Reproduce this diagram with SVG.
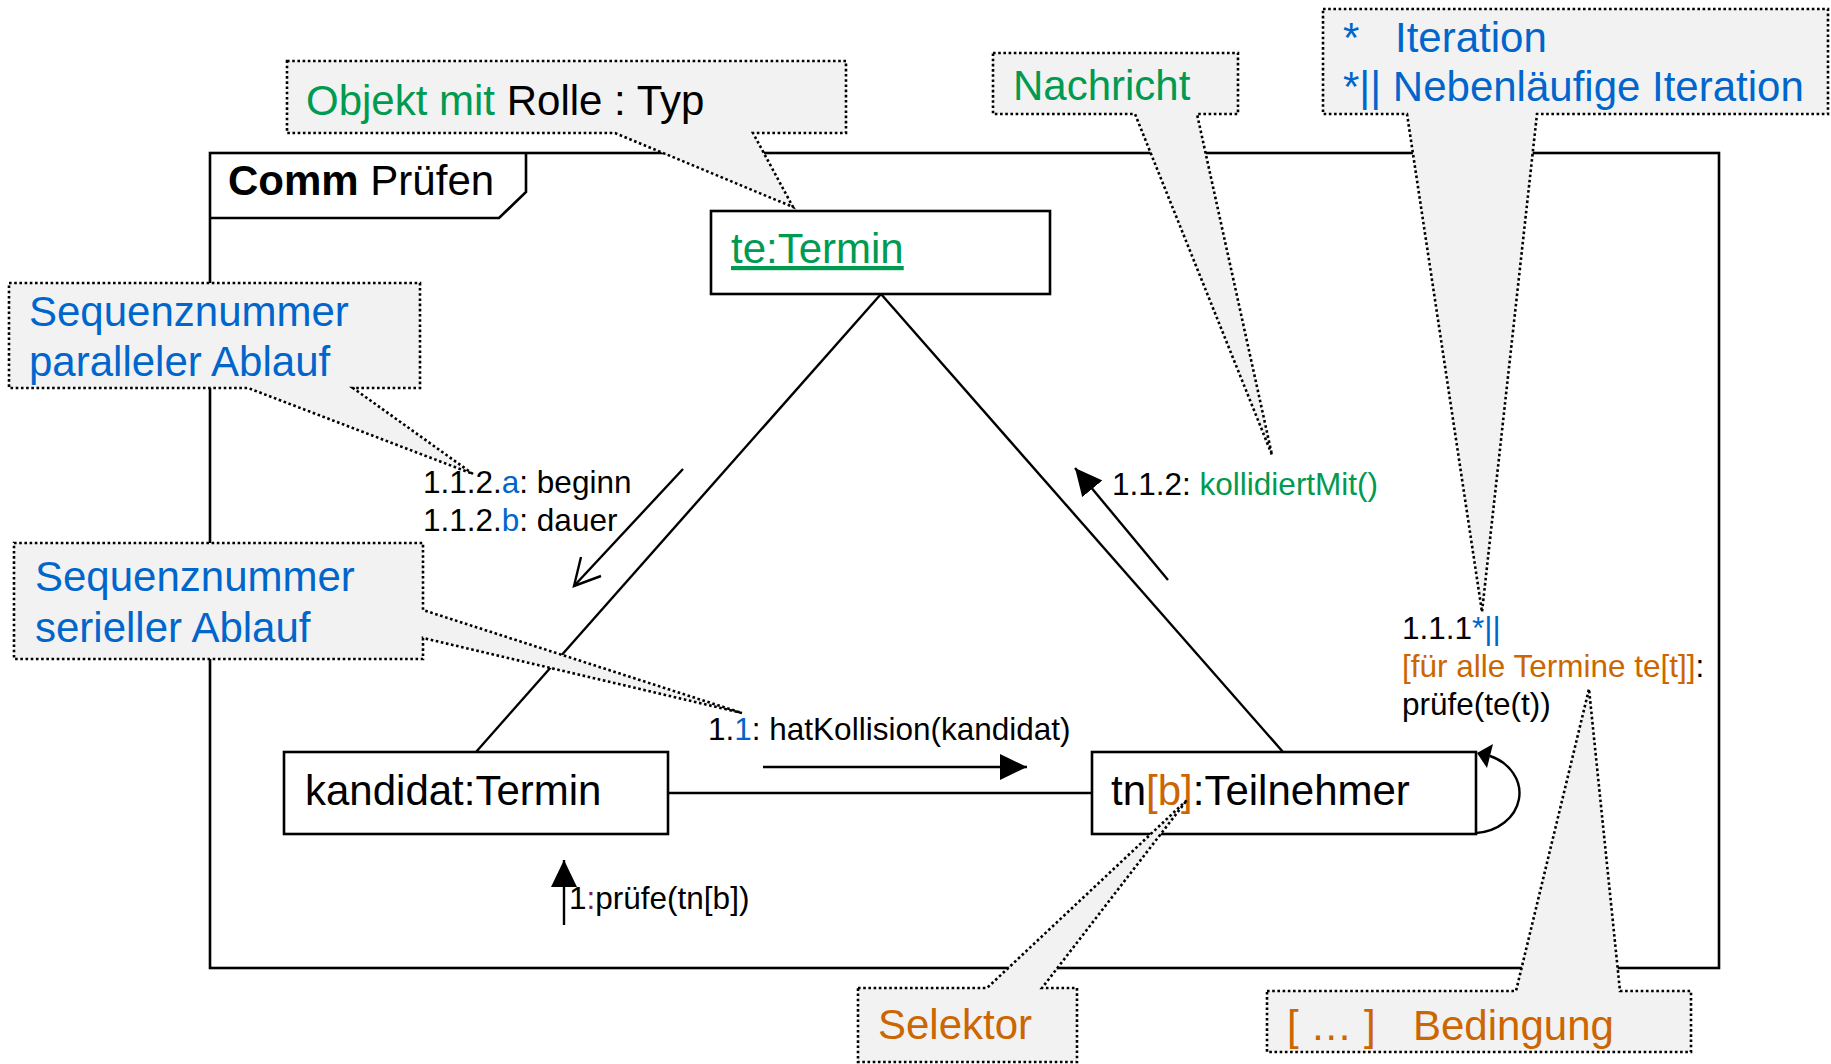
<svg xmlns="http://www.w3.org/2000/svg" width="1831" height="1064" viewBox="0 0 1831 1064">
  <style>
    text { font-family: "Liberation Sans", Arial, sans-serif; fill: #000; }
    .big { font-size: 42px; }
    .sm { font-size: 31.5px; }
    .g { fill: #009a50; }
    .b { fill: #0066cc; }
    .o { fill: #cc6600; }
    .p { fill: #7a1a6a; }
    .frame { fill: none; stroke: #000; stroke-width: 2.6; }
    .box { fill: #fff; stroke: #000; stroke-width: 2.6; }
    .link { fill: none; stroke: #000; stroke-width: 2.4; }
    .msg { fill: none; stroke: #000; stroke-width: 2.4; }
    .note { fill: #f2f2f2; stroke: #000; stroke-width: 2.6; stroke-dasharray: 2.6 2.6; }
  </style>
  <defs>
    <marker id="head" viewBox="0 0 27 26" refX="27" refY="13" markerWidth="27" markerHeight="26" markerUnits="userSpaceOnUse" orient="auto">
      <path d="M0,0 L27,13 L0,26 Z" fill="#000"/>
    </marker>
  </defs>

  <rect x="0" y="0" width="1831" height="1064" fill="#fff"/>

  <!-- communication diagram frame with name tab -->
  <g id="frame">
    <rect class="frame" x="210" y="153" width="1509" height="815"/>
    <path class="frame" d="M210,218 H499 L526,192 V153"/>
    <text class="big" x="228" y="195"><tspan font-weight="bold">Comm</tspan> Prüfen</text>
  </g>

  <!-- links between the lifelines -->
  <g id="connectors">
    <line class="link" x1="881" y1="294" x2="476" y2="752"/>
    <line class="link" x1="881" y1="294" x2="1283" y2="752"/>
    <line class="link" x1="668" y1="793" x2="1092" y2="793"/>
    <!-- self link on tn[b] -->
    <path class="link" d="M1476,833 A47,40 0 0 0 1490,756"/>
    <polygon points="1477,753 1493,744 1487,768" fill="#000"/>
  </g>

  <!-- objects -->
  <g id="node-te">
    <rect class="box" x="711" y="211" width="339" height="83"/>
    <text class="big g" x="731" y="263" text-decoration="underline">te:Termin</text>
  </g>
  <g id="node-kandidat">
    <rect class="box" x="284" y="752" width="384" height="82"/>
    <text class="big" x="305" y="805">kandidat:Termin</text>
  </g>
  <g id="node-tn">
    <rect class="box" x="1092" y="752" width="384" height="82"/>
    <text class="big" x="1111" y="805">tn<tspan class="o">[b]</tspan>:Teilnehmer</text>
  </g>

  <!-- messages -->
  <g id="messages">
    <line class="msg" x1="564" y1="925" x2="564" y2="860" marker-end="url(#head)"/>
    <text class="sm" x="569" y="909">1<tspan class="p">:</tspan>prüfe(tn[b])</text>

    <line class="msg" x1="763" y1="767" x2="1027" y2="767" marker-end="url(#head)"/>
    <text class="sm" x="708" y="740">1.<tspan class="b">1</tspan>: hatKollision(kandidat)</text>

    <line class="msg" x1="683" y1="469" x2="574" y2="586"/>
    <polyline class="msg" points="581,557 574,586 601,576"/>
    <text class="sm" x="423" y="493">1.1.2.<tspan class="b">a</tspan>: beginn</text>
    <text class="sm" x="423" y="531">1.1.2.<tspan class="b">b</tspan>: dauer</text>

    <line class="msg" x1="1168" y1="580" x2="1075" y2="468" marker-end="url(#head)"/>
    <text class="sm" x="1112" y="495">1.1.2: <tspan class="g">kollidiertMit()</tspan></text>

    <text class="sm" x="1402" y="639">1.1.1<tspan class="b">*||</tspan></text>
    <text class="sm" x="1402" y="677"><tspan class="o">[für alle Termine te[t]]</tspan>:</text>
    <text class="sm" x="1402" y="715">prüfe(te(t))</text>
  </g>

  <!-- explanatory callouts -->
  <g id="note-objekt">
    <path class="note" d="M287,61 H846 V133 H753 L793,207 L615,133 H287 Z"/>
    <text class="big" x="306" y="115" font-size="42.5"><tspan class="g">Objekt mit </tspan>Rolle : Typ</text>
  </g>
  <g id="note-nachricht">
    <path class="note" d="M993,53 H1238 V114 H1197 L1272,455 L1135,114 H993 Z"/>
    <text class="big g" x="1013" y="100">Nachricht</text>
  </g>
  <g id="note-iteration">
    <path class="note" d="M1323,9 H1828 V114 H1537 L1482,612 L1407,114 H1323 Z"/>
    <text class="big b" x="1343" y="52">*</text>
    <text class="big b" x="1395" y="52">Iteration</text>
    <text class="big b" x="1343" y="101">*|| Nebenläufige Iteration</text>
  </g>
  <g id="note-parallel">
    <path class="note" d="M9,283 H420 V388 H353 L473,474 L248,388 H9 Z"/>
    <text class="big b" x="29" y="326">Sequenznummer</text>
    <text class="big b" x="29" y="376">paralleler Ablauf</text>
  </g>
  <g id="note-seriell">
    <path class="note" d="M14,543 H423 V610 L742,713 L423,638 V659 H14 Z"/>
    <text class="big b" x="35" y="591">Sequenznummer</text>
    <text class="big b" x="35" y="642">serieller Ablauf</text>
  </g>
  <g id="note-selektor">
    <path class="note" d="M858,988 H987 L1187,800 L1042,988 H1077 V1062 H858 Z"/>
    <text class="big o" x="878" y="1039">Selektor</text>
  </g>
  <g id="note-bedingung">
    <path class="note" d="M1267,991 H1516 L1589,689 L1620,991 H1691 V1052 H1267 Z"/>
    <text class="big o" x="1287" y="1040">[ … ]<tspan x="1413">Bedingung</tspan></text>
  </g>
</svg>
